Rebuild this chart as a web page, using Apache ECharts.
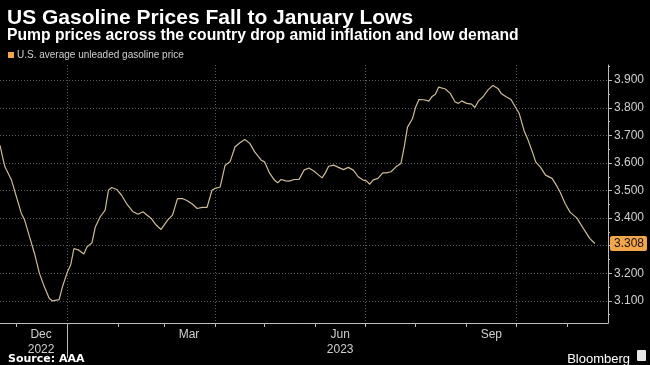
<!DOCTYPE html>
<html><head><meta charset="utf-8">
<script src="https://cdn.jsdelivr.net/npm/echarts@6/dist/echarts.min.js"></script>
<style>html,body{margin:0;padding:0;background:#000}#c{width:650px;height:365px}</style>
</head><body><div id="c"></div>
<script>
const dates = ['2022-11-21','2022-11-23','2022-11-24','2022-11-28','2022-12-01','2022-12-04','2022-12-06','2022-12-09','2022-12-12','2022-12-15','2022-12-18','2022-12-21','2022-12-23','2022-12-27','2022-12-29',
'2023-01-01','2023-01-03','2023-01-05','2023-01-08','2023-01-11','2023-01-13','2023-01-16','2023-01-18','2023-01-21','2023-01-24','2023-01-26','2023-01-28','2023-01-31',
'2023-02-03','2023-02-06','2023-02-10','2023-02-13','2023-02-16','2023-02-21','2023-02-24','2023-02-27','2023-02-28',
'2023-03-03','2023-03-06','2023-03-09','2023-03-12','2023-03-15','2023-03-18','2023-03-21','2023-03-24','2023-03-27','2023-03-30',
'2023-04-01','2023-04-04','2023-04-07','2023-04-10','2023-04-13','2023-04-16','2023-04-19','2023-04-22','2023-04-25','2023-04-29',
'2023-05-01','2023-05-04','2023-05-07','2023-05-09','2023-05-11','2023-05-14','2023-05-16','2023-05-19','2023-05-22','2023-05-25','2023-05-28','2023-05-31',
'2023-06-03','2023-06-05','2023-06-07','2023-06-09','2023-06-12','2023-06-15','2023-06-18','2023-06-21','2023-06-24','2023-06-27','2023-06-30',
'2023-07-02','2023-07-04','2023-07-06','2023-07-09','2023-07-12','2023-07-14','2023-07-17','2023-07-20','2023-07-23','2023-07-25','2023-07-27','2023-07-30',
'2023-08-01','2023-08-03','2023-08-06','2023-08-09','2023-08-11','2023-08-13','2023-08-15','2023-08-19','2023-08-22','2023-08-25','2023-08-27','2023-08-29',
'2023-09-01','2023-09-04','2023-09-06','2023-09-08','2023-09-11','2023-09-14','2023-09-17','2023-09-20','2023-09-22','2023-09-25','2023-09-28','2023-09-30',
'2023-10-03','2023-10-06','2023-10-08','2023-10-11','2023-10-13','2023-10-16','2023-10-19','2023-10-23','2023-10-26','2023-10-28','2023-10-31',
'2023-11-03','2023-11-07','2023-11-11','2023-11-15','2023-11-18'];
const prices = [3.664,3.610,3.586,3.538,3.477,3.417,3.393,3.332,3.272,3.200,3.151,3.109,3.100,3.105,3.151,
3.205,3.230,3.290,3.284,3.270,3.296,3.311,3.368,3.405,3.429,3.501,3.511,3.504,
3.483,3.453,3.423,3.414,3.423,3.399,3.375,3.359,3.357,
3.393,3.411,3.471,3.471,3.463,3.451,3.435,3.439,3.439,3.501,
3.508,3.513,3.592,3.604,3.658,3.673,3.685,3.671,3.640,3.610,
3.604,3.564,3.538,3.528,3.540,3.535,3.534,3.540,3.540,3.574,3.582,3.571,
3.556,3.546,3.564,3.588,3.592,3.584,3.576,3.584,3.574,3.550,3.538,
3.535,3.523,3.538,3.544,3.564,3.564,3.568,3.586,3.598,3.658,3.730,3.760,
3.803,3.830,3.829,3.824,3.841,3.849,3.875,3.868,3.852,3.821,3.816,3.825,
3.816,3.813,3.801,3.823,3.840,3.865,3.881,3.870,3.852,3.840,3.830,3.809,
3.779,3.716,3.689,3.640,3.604,3.584,3.556,3.544,3.515,3.493,3.452,
3.421,3.401,3.363,3.326,3.308];
const seriesName = 'U.S. average unleaded gasoline price';
const yTickValues = [3.1,3.2,3.3,3.4,3.5,3.6,3.7,3.8,3.9];
const yMinorValues = [3.05,3.15,3.25,3.35,3.45,3.55,3.65,3.75,3.85,3.95];
const monthStarts = ['2022-12-01','2023-01-01','2023-02-01','2023-03-01','2023-04-01','2023-05-01','2023-06-01','2023-07-01','2023-08-01','2023-09-01','2023-10-01','2023-11-01'];
const quarterStarts = ['2023-01-01','2023-04-01','2023-07-01','2023-10-01'];
const yearStarts = ['2023-01-01'];
const xLabelDates = ['2022-12-16','2023-03-16','2023-06-16','2023-09-16'];
const xLabelTexts = ['Dec\n2022','Mar','Jun\n2023','Sep'];
const xMin = '2022-11-21', xMax = '2023-11-26';
const yMin = 3.02, yMax = 3.955;

const ts = s => Date.parse(s);
const axisCol = '#bdbdbd', gridCol = '#5a5a5a', textCol = '#d0d0d0';
const orange = '#f4a64a';
const lastVal = prices[prices.length - 1];

const chart = echarts.init(document.getElementById('c'), null, {renderer: 'canvas'});
const baseX = {type: 'value', min: ts(xMin), max: ts(xMax), position: 'bottom'};
const baseY = {type: 'value', min: yMin, max: yMax, position: 'right'};
chart.setOption({
  backgroundColor: '#000',
  animation: false,
  title: [
    {text: 'US Gasoline Prices Fall to January Lows', left: 2, top: 3,
     textStyle: {color: '#fff', fontSize: 21, fontWeight: 'bold', fontFamily: 'Liberation Sans'}},
    {text: 'Pump prices across the country drop amid inflation and low demand', left: 2, top: 23,
     textStyle: {color: '#fff', fontSize: 15.7, fontWeight: 'bold', fontFamily: 'Liberation Sans'}},
    {text: 'Source: AAA', left: 3, top: 349,
     textStyle: {color: '#fff', fontSize: 11, fontWeight: 'bold', fontFamily: 'DejaVu Sans'}},
    {text: 'Bloomberg', right: 15, top: 348,
     textStyle: {color: '#fff', fontSize: 13, fontWeight: 'normal', fontFamily: 'Liberation Sans'}}
  ],
  graphic: [
    {type: 'rect', right: 4, top: 350, shape: {width: 9, height: 11, r: 1}, style: {fill: '#e8e8e8'}}
  ],
  legend: {
    left: 3, top: 45, icon: 'rect', itemWidth: 6, itemHeight: 6, itemGap: 10,
    textStyle: {color: textCol, fontSize: 10, fontFamily: 'Liberation Sans', padding: [0,0,0,-2]},
    data: [{name: seriesName, itemStyle: {color: orange}}]
  },
  grid: {left: 0, right: 37, top: 65, bottom: 42, containLabel: false},
  xAxis: [
    Object.assign({}, baseX, {
      axisLine: {show: true, lineStyle: {color: axisCol, width: 1}},
      axisTick: {show: true, customValues: monthStarts.map(ts), length: 4, lineStyle: {color: axisCol}},
      axisLabel: {show: true, customValues: xLabelDates.map(ts),
        formatter: v => { const i = xLabelDates.map(ts).indexOf(v); return i >= 0 ? xLabelTexts[i] : ''; },
        color: textCol, fontSize: 12, lineHeight: 15, margin: 4, fontFamily: 'Liberation Sans'},
      splitLine: {show: false}
    }),
    Object.assign({}, baseX, {
      axisLine: {show: false},
      axisTick: {show: true, customValues: yearStarts.map(ts), length: 35, lineStyle: {color: axisCol}},
      axisLabel: {show: false},
      splitLine: {show: false}
    }),
    Object.assign({}, baseX, {
      axisLine: {show: false},
      axisTick: {show: false, customValues: quarterStarts.map(ts)},
      axisLabel: {show: false},
      splitLine: {show: true, lineStyle: {color: gridCol, type: [1, 2], width: 1}}
    })
  ],
  yAxis: [
    Object.assign({}, baseY, {
      axisLine: {show: true, lineStyle: {color: axisCol}},
      axisTick: {show: true, customValues: yTickValues, length: 4, lineStyle: {color: axisCol}},
      axisLabel: {customValues: yTickValues, formatter: v => v.toFixed(3), color: textCol, fontSize: 12, margin: 6, fontFamily: 'Liberation Sans'},
      splitLine: {show: true, lineStyle: {color: gridCol, type: [1, 2], width: 1}}
    }),
    Object.assign({}, baseY, {
      axisLine: {show: false},
      axisTick: {show: true, customValues: yMinorValues, length: 2, lineStyle: {color: axisCol}},
      axisLabel: {show: false},
      splitLine: {show: false}
    }),
    Object.assign({}, baseY, {
      axisLine: {show: false},
      axisTick: {show: false},
      axisLabel: {customValues: [lastVal], formatter: v => v.toFixed(3), color: '#111', fontSize: 12,
        backgroundColor: orange, padding: [2, 3, 1, 4], borderRadius: 2, margin: 2, fontFamily: 'Liberation Sans'},
      splitLine: {show: false}
    })
  ],
  series: [{
    name: seriesName, type: 'line', xAxisIndex: 0, yAxisIndex: 0,
    showSymbol: false, symbol: 'none', smooth: false,
    lineStyle: {color: '#cdbb9c', width: 1.2},
    itemStyle: {color: orange},
    data: dates.map((d, i) => [ts(d), prices[i]])
  }]
});
</script></body></html>
